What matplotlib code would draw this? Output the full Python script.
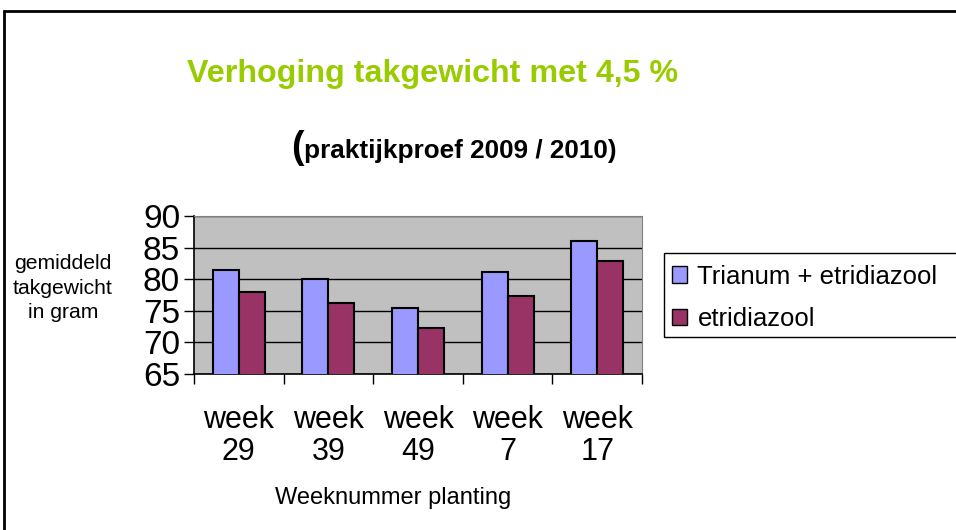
import matplotlib.pyplot as plt
from matplotlib.patches import Patch, Rectangle

plt.rcParams['font.family'] = ['Liberation Sans', 'DejaVu Sans']

weeks = ["week\n29", "week\n39", "week\n49", "week\n7", "week\n17"]
trianum = [81.4, 80.1, 75.4, 81.1, 86.1]
etridiazool = [77.9, 76.3, 72.2, 77.3, 82.9]
series_names = ["Trianum + etridiazool", "etridiazool"]
yticks = [65, 70, 75, 80, 85, 90]

blue = "#9999FF"
red = "#993366"

fig = plt.figure(figsize=(9.56, 5.30), dpi=100)
ax = fig.add_axes([194 / 956, 1 - 374 / 530, 448 / 956, 158 / 530])
ax.set_facecolor("#C0C0C0")

x = list(range(len(weeks)))
w = 0.29
ax.bar([i - w / 2 for i in x], trianum, w, color=blue, edgecolor="black", linewidth=1.5, zorder=3)
ax.bar([i + w / 2 for i in x], etridiazool, w, color=red, edgecolor="black", linewidth=1.5, zorder=3)

ax.set_xlim(-0.5, len(weeks) - 0.5)
ax.set_ylim(65, 90)
ax.set_yticks(yticks)
ax.yaxis.grid(True, color="black", linewidth=1, zorder=1)
ax.tick_params(axis="y", labelsize=24, length=7, width=1, pad=3)

ax.set_xticks(x)
ax.set_xticklabels(weeks, fontsize=22, linespacing=1.1)
ax.set_xticks([i - 0.5 for i in range(len(weeks) + 1)], minor=True)
ax.tick_params(axis="x", which="major", length=0, pad=22)
ax.tick_params(axis="x", which="minor", length=7, width=1, direction="out")

for s in ["top", "right"]:
    ax.spines[s].set_color("#808080")
for s in ["left", "bottom"]:
    ax.spines[s].set_color("black")
    ax.spines[s].set_linewidth(1.2)

fig.text(433 / 956, 1 - 74 / 530, "Verhoging takgewicht met 4,5 %", color="#99CC00",
         fontsize=23.2, fontweight="bold", ha="center", va="center")
fig.text(304 / 956, 1 - 158 / 530, "(", fontsize=27, fontweight="bold", ha="right", va="baseline")
fig.text(304 / 956, 1 - 158 / 530, "praktijkproef 2009 / 2010)", fontsize=18.8, fontweight="bold",
         ha="left", va="baseline")

fig.text(63 / 956, 1 - 288 / 530, "gemiddeld\ntakgewicht\nin gram", fontsize=15.2,
         ha="center", va="center", linespacing=1.38)
fig.text(393 / 956, 1 - 498 / 530, "Weeknummer planting", fontsize=17, ha="center", va="center")

# legend: entries without frame, frame drawn separately so it runs off the right edge
handles = [Patch(facecolor=blue, edgecolor="black"), Patch(facecolor=red, edgecolor="black")]
fig.legend(handles, series_names, loc="upper left", bbox_to_anchor=(664 / 956, 1 - 257 / 530),
           fontsize=18.5, frameon=False,
           handlelength=0.6, handleheight=0.6, handletextpad=0.4, labelspacing=0.72,
           borderpad=0.3, borderaxespad=0)
fig.patches.append(Rectangle((664 / 956, 1 - 337 / 530), 0.5, 84 / 530, transform=fig.transFigure,
                             fill=False, edgecolor="black", linewidth=1, clip_on=False))

fig.patches.append(Rectangle((4 / 956, -0.1), 1.2, 1 - 11 / 530 + 0.1, transform=fig.transFigure,
                             fill=False, edgecolor="black", linewidth=2, clip_on=False))

fig.savefig("out.png", dpi=100)
